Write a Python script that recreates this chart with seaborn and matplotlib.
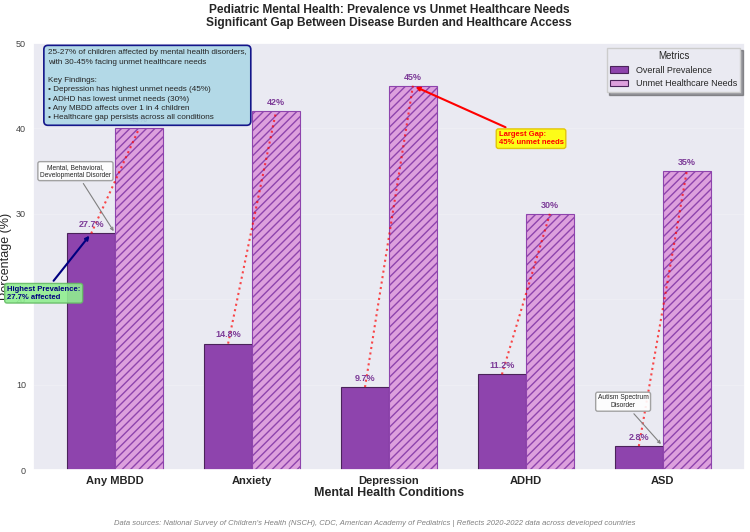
import matplotlib
matplotlib.use("Agg")
import matplotlib.pyplot as plt
import numpy as np
import pandas as pd
import seaborn as sns

sns.set_theme(style="darkgrid")
plt.rcParams['font.family'] = ['Liberation Sans', 'DejaVu Sans']

# datos
condiciones = ['Any MBDD', 'Anxiety', 'Depression', 'ADHD', 'ASD']
prevalencia = [27.7, 14.8, 9.7, 11.2, 2.8]
necesidades = [40, 42, 45, 30, 35]
metricas = ['Overall Prevalence', 'Unmet Healthcare Needs']

df = pd.DataFrame({
    'Condition': condiciones * 2,
    'Value': prevalencia + necesidades,
    'Metric': [metricas[0]] * len(condiciones) + [metricas[1]] * len(condiciones),
})

fig = plt.figure(figsize=(7.5, 5.32), dpi=100)
ax = fig.add_axes([0.044, 0.1165, 0.9493, 0.8026])

sns.barplot(data=df, x='Condition', y='Value', hue='Metric', ax=ax,
            palette=['#8E44AD', '#DDA0DD'], width=0.7, saturation=1,
            edgecolor='#4A235A', linewidth=0.8)

# hatch en la segunda serie
n = len(condiciones)
for i, p in enumerate(ax.patches[:2 * n]):
    if i >= n:
        p.set_hatch('////')
        p.set_edgecolor('#8E44AD')

ax.set_ylim(0, 50)
ax.set_xlim(-0.6, 4.6)
ax.set_yticks([0, 10, 20, 30, 40, 50])
ax.tick_params(axis='y', labelsize=6.5, labelcolor='#444444', pad=5, length=0)
ax.tick_params(axis='x', labelsize=8, pad=4, length=0)
for t in ax.get_xticklabels():
    t.set_fontweight('bold')
ax.grid(True, axis='y', alpha=0.2)
ax.set_ylabel('Percentage (%)', fontsize=9, labelpad=3)
ax.set_xlabel('Mental Health Conditions', fontsize=9, fontweight='bold', labelpad=1)
ax.set_title('Pediatric Mental Health: Prevalence vs Unmet Healthcare Needs\n'
             'Significant Gap Between Disease Burden and Healthcare Access',
             fontsize=8.6, fontweight='bold', pad=12)

# etiquetas y lineas punteadas
for i in range(n):
    ax.annotate(f'{prevalencia[i]}%', (i - 0.175, prevalencia[i]), xytext=(0, 3),
                textcoords='offset points', ha='center', va='bottom',
                fontsize=6.5, fontweight='bold', color='#7D3C98')
    ax.annotate(f'{necesidades[i]}%', (i + 0.175, necesidades[i]), xytext=(0, 3),
                textcoords='offset points', ha='center', va='bottom',
                fontsize=6.5, fontweight='bold', color='#7D3C98')
    ax.plot([i - 0.175, i + 0.175], [prevalencia[i], necesidades[i]],
            linestyle=':', color='red', alpha=0.7, lw=1.5)

caja_blanca = dict(boxstyle='round,pad=0.3', facecolor='white', edgecolor='#999999', alpha=0.9)
ax.annotate('Mental, Behavioral,\nDevelopmental Disorder', xy=(0, prevalencia[0]),
            xytext=(-0.29, 35), ha='center', va='center', fontsize=4.8,
            bbox=caja_blanca, arrowprops=dict(arrowstyle='->', color='gray', lw=0.8))
ax.annotate('Autism Spectrum\nDisorder', xy=(4, prevalencia[4]),
            xytext=(3.71, 8.0), ha='center', va='center', fontsize=4.8,
            bbox=caja_blanca, arrowprops=dict(arrowstyle='->', color='gray', lw=0.8))

ax.annotate('Highest Prevalence:\n27.7% affected', xy=(-0.175, prevalencia[0]),
            xytext=(-0.79, 20.7), ha='left', va='center', fontsize=5.5,
            fontweight='bold', color='navy',
            bbox=dict(boxstyle='round,pad=0.3', facecolor='lightgreen', edgecolor='#66bb66', alpha=0.9),
            arrowprops=dict(arrowstyle='->', color='navy', lw=1.5))

ax.annotate('Largest Gap:\n45% unmet needs', xy=(2.175, necesidades[2]),
            xytext=(2.80, 38.8), ha='left', va='center', fontsize=5.5,
            fontweight='bold', color='red',
            bbox=dict(boxstyle='round,pad=0.3', facecolor='yellow', edgecolor='#e0c000', alpha=0.9),
            arrowprops=dict(arrowstyle='->', color='red', lw=1.5))

info = ('25-27% of children affected by mental health disorders,\n'
        'with 30-45% facing unmet healthcare needs\n\n'
        'Key Findings:\n'
        '• Depression has highest unmet needs (45%)\n'
        '• ADHD has lowest unmet needs (30%)\n'
        '• Any MBDD affects over 1 in 4 children\n'
        '• Healthcare gap persists across all conditions')
ax.text(0.021, 0.985, info, transform=ax.transAxes, ha='left', va='top', fontsize=5.9,
        linespacing=1.45,
        bbox=dict(boxstyle='round,pad=0.5', facecolor='lightblue', edgecolor='navy', lw=1.2, alpha=0.9))

ax.legend(title='Metrics', loc='upper right', fontsize=6.5, title_fontsize=7,
          frameon=True, shadow=True, fancybox=False)

fig.text(0.5, 0.014, 'Data sources: National Survey of Children\'s Health (NSCH), CDC, American Academy of Pediatrics | '
         'Reflects 2020-2022 data across developed countries',
         ha='center', fontsize=5.5, style='italic', color='gray')

fig.savefig('out.png', dpi=100)
